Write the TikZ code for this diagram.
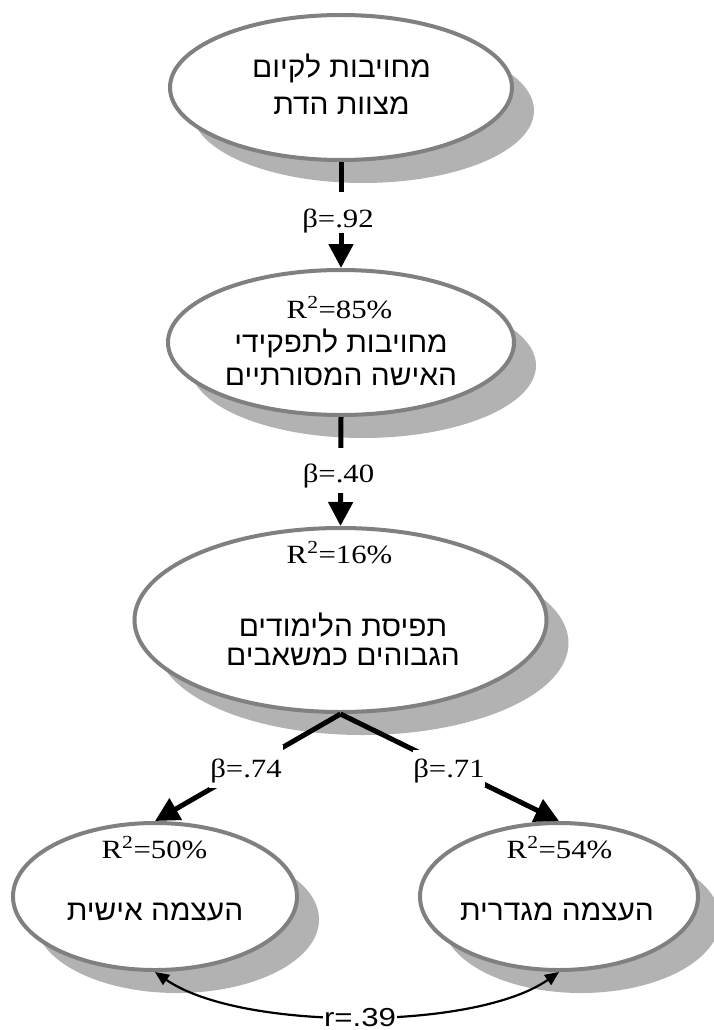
\documentclass[tikz,border=0pt]{standalone}
\usepackage{fontspec}
\setmainfont[FakeStretch=1.17]{Liberation Serif}
\newfontfamily\hebfont[Script=Hebrew,FakeStretch=1.03]{Liberation Sans}
\newfontfamily\arialfont[FakeStretch=1.2]{Liberation Sans}
\TeXXeTstate=1
\usetikzlibrary{shapes.geometric,arrows.meta,shadows}
\definecolor{rimgray}{RGB}{128,128,128}
\definecolor{shadegray}{RGB}{178,178,178}
\tikzset{
  construct/.style={ellipse, draw=rimgray, line width=4pt, fill=white, inner sep=0pt,
    general shadow={fill=shadegray, shadow xshift=22pt, shadow yshift=-23pt}},
  hebtext/.style={font=\hebfont\fontsize{29pt}{33pt}\selectfont, align=center, anchor=base, inner sep=0pt},
  stat/.style={font=\fontsize{26.3pt}{30pt}\selectfont, anchor=base, inner sep=0pt},
  coef/.style={font=\fontsize{26.3pt}{30pt}\selectfont, fill=white, inner xsep=1pt, inner ysep=0pt, anchor=base},
  effect/.style={line width=5pt, -{Triangle[length=24pt,width=24pt]}},
  corr/.style={line width=2.2pt, {Triangle[length=14pt,width=12pt]}-{Triangle[length=14pt,width=12pt]}},
}
\begin{document}
\begin{tikzpicture}[x=1pt,y=-1pt]
\useasboundingbox (0,0) rectangle (713,1030);

% constructs
\node[construct, minimum width=342pt, minimum height=145pt] (E1) at (341,87.5) {};
\node[construct, minimum width=346pt, minimum height=145pt] (E2) at (341,342.5) {};
\node[construct, minimum width=412pt, minimum height=184pt] (E3) at (340.5,620) {};
\node[construct, minimum width=284pt, minimum height=147pt] (E4) at (155,896.5) {};
\node[construct, minimum width=278pt, minimum height=147pt] (E5) at (559,896.5) {};

% construct names (placed by the baseline of their last line) and explained variance
\node[hebtext] (t1) at (341.5,115) {\beginR מחויבות לקיום\endR\\[4pt]\beginR מצוות הדת\endR};
\node[stat] (r2) at (339.5,318) {R\textsuperscript{2}=85\%};
\node[hebtext] (t2) at (341,385) {\beginR מחויבות לתפקידי\endR\\\beginR האישה המסורתיים\endR};
\node[stat] (r3) at (339.5,563) {R\textsuperscript{2}=16\%};
\node[hebtext] (t3) at (343,665) {\beginR תפיסת הלימודים\endR\\[-4pt]\beginR הגבוהים כמשאבים\endR};
\node[stat] (r4) at (154.5,858) {R\textsuperscript{2}=50\%};
\node[hebtext] (t4) at (155,920) {\beginR העצמה אישית\endR};
\node[stat] (r5) at (559.5,858) {R\textsuperscript{2}=54\%};
\node[hebtext] (t5) at (557,920) {\beginR העצמה מגדרית\endR};

% structural paths
\draw[effect] (E1.south) -- (E2.north);
\draw[effect] (E2.south) -- (E3.north);
\draw[effect] (E3.south) -- (E4.north);
\draw[effect] (E3.south) -- (E5.north);
\draw[corr] (E4.south) .. controls (240,1031) and (475,1031) .. (E5.south);

% coefficients on the paths
\node[coef, text height=35pt, text depth=6pt] (b1) at (338,227) {β=.92};
\node[coef, text height=34pt, text depth=11pt] (b2) at (338.5,482) {β=.40};
\node[coef, text height=32pt, text depth=11pt, inner xsep=1pt] (b3) at (246,777) {β=.74};
\node[coef, text height=27pt, text depth=10pt, inner xsep=0pt] (b4) at (449,777) {β=.71};
\node[anchor=base, fill=white, inner xsep=1pt, inner ysep=2pt,
      font=\arialfont\fontsize{26pt}{30pt}\selectfont] (rr) at (360,1026) {r=.39};
\end{tikzpicture}
\end{document}
